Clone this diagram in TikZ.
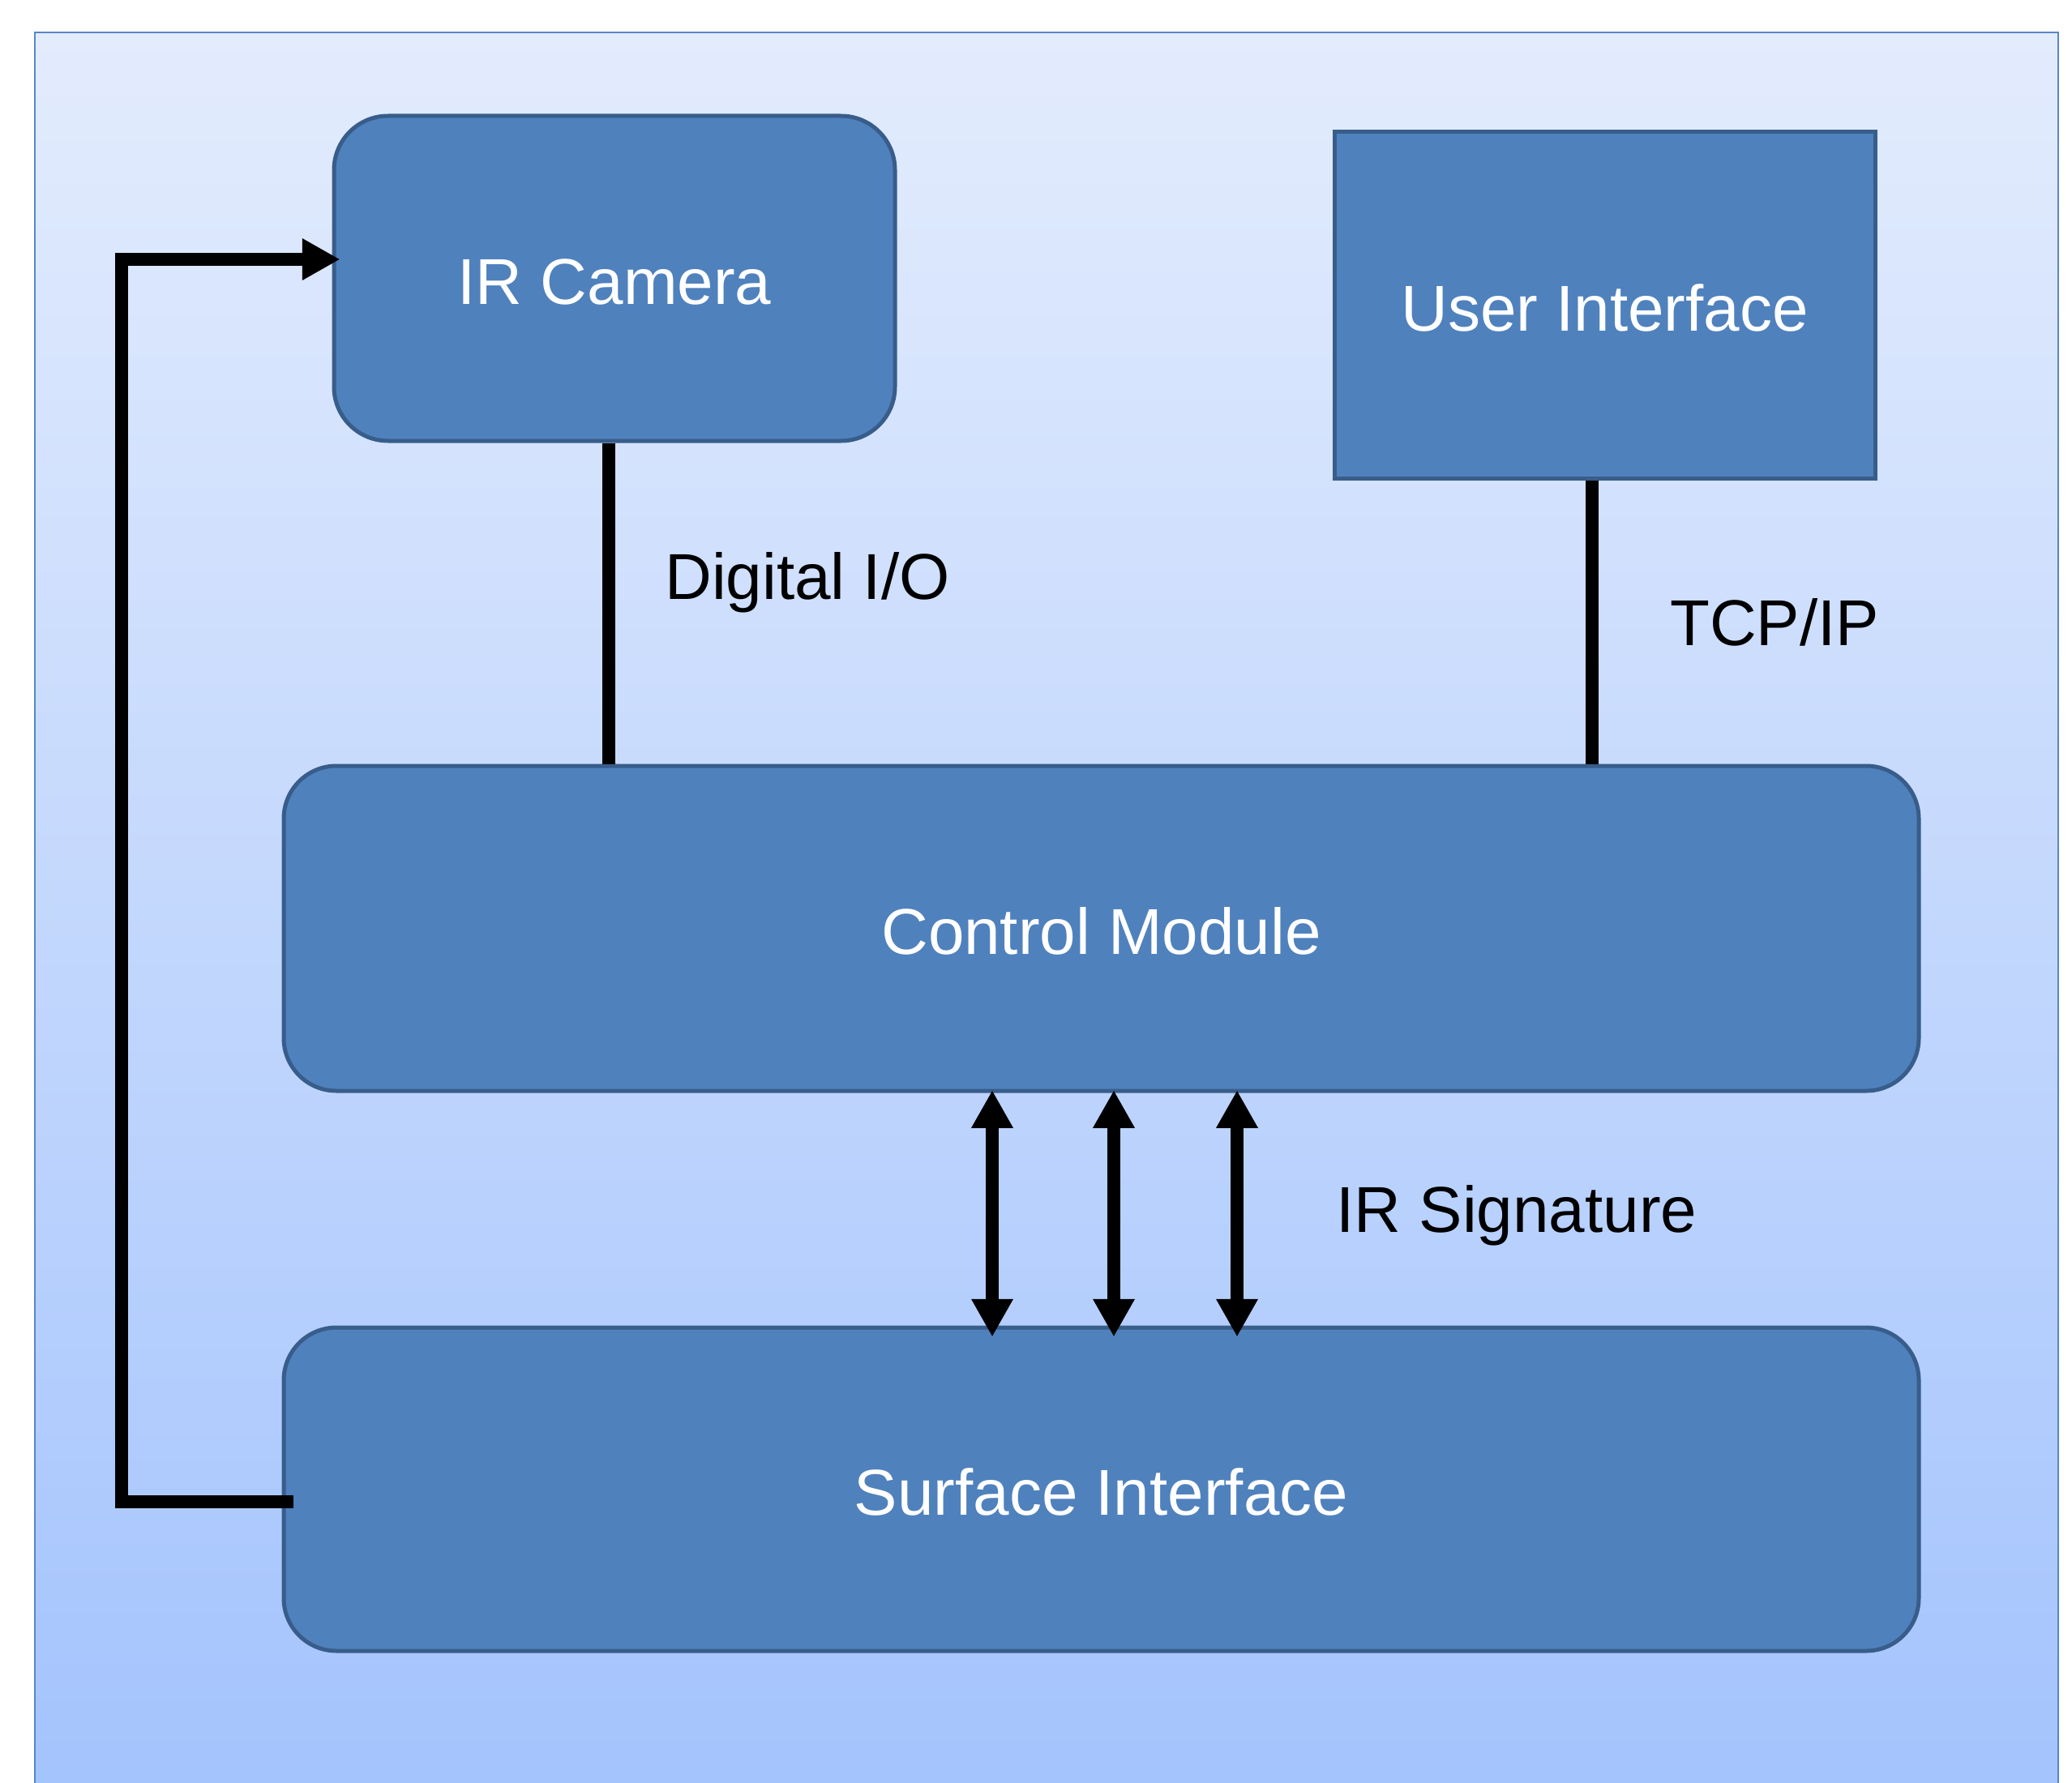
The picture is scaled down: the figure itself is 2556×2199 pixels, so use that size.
\documentclass[tikz,border=0pt]{standalone}
\usepackage{fontspec}
\setmainfont{Liberation Sans}
\usetikzlibrary{arrows.meta}
\definecolor{boxfill}{HTML}{4F81BD}
\definecolor{boxline}{HTML}{385D8A}
\definecolor{bgtop}{HTML}{E3ECFD}
\definecolor{bgbot}{HTML}{A3C3FD}
\definecolor{bgedge}{HTML}{5A86C5}
\begin{document}
\begin{tikzpicture}[x=0.3pt,y=-0.3pt,
  blk/.style={draw=boxline, line width=1.5pt, fill=boxfill, text=white,
    font=\fontsize{24}{28}\selectfont, inner sep=0pt, text height=19.4pt, text depth=0pt},
  conn/.style={line width=4.7pt, draw=black},
  tri/.tip={Triangle[length=14pt,width=14.5pt]},
  lbl/.style={font=\fontsize{24}{28}\selectfont, text=black, inner sep=0pt}]
\useasboundingbox (0,0) rectangle (2556,2199);
\path[top color=bgtop, bottom color=bgbot, draw=bgedge, line width=0.7pt]
  (43,40) rectangle (2539,2230);

\node[blk, rounded corners=20pt, minimum width=207.6pt, minimum height=120.3pt] (cam) at (758,343.5) {IR Camera};
\node[blk, minimum width=200.1pt, minimum height=128.1pt] (ui) at (1979.5,376.5) {User Interface};
\node[blk, rounded corners=19.5pt, minimum width=605.1pt, minimum height=120.3pt] (cm) at (1358.5,1145.5) {Control Module};
\node[blk, rounded corners=19.5pt, minimum width=605.1pt, minimum height=119.7pt] (si) at (1358.5,1837.5) {Surface Interface};

% Digital I/O link
\draw[conn] ([xshift=-2.1pt]cam.south) -- ([xshift=-2.1pt]cam.south |- cm.north);
% TCP/IP link
\draw[conn] ([xshift=-4.65pt]ui.south) -- ([xshift=-4.65pt]ui.south |- cm.north);

% IR signature arrows
\foreach \dx in {-40.35pt, 4.65pt, 50.25pt}{
  \draw[conn, tri-tri, shorten <=-1pt, shorten >=-4.2pt]
    ([xshift=\dx]cm.south) -- ([xshift=\dx]si.north);
}

% feedback loop
\coordinate (sib) at (362,1853);
\coordinate (lbc) at (150,1853);
\coordinate (ltc) at (150,320);
\draw[conn, -tri, shorten >=-3pt] (sib) -- (lbc) -- (ltc) -- (cam.west |- ltc);

\node[lbl] (ldig) at (996,719) {Digital I/O};
\node[lbl] (ltcp) at (2189,768) {TCP/IP};
\node[lbl] (lirs) at (1871,1500) {IR Signature};
\end{tikzpicture}
\end{document}
